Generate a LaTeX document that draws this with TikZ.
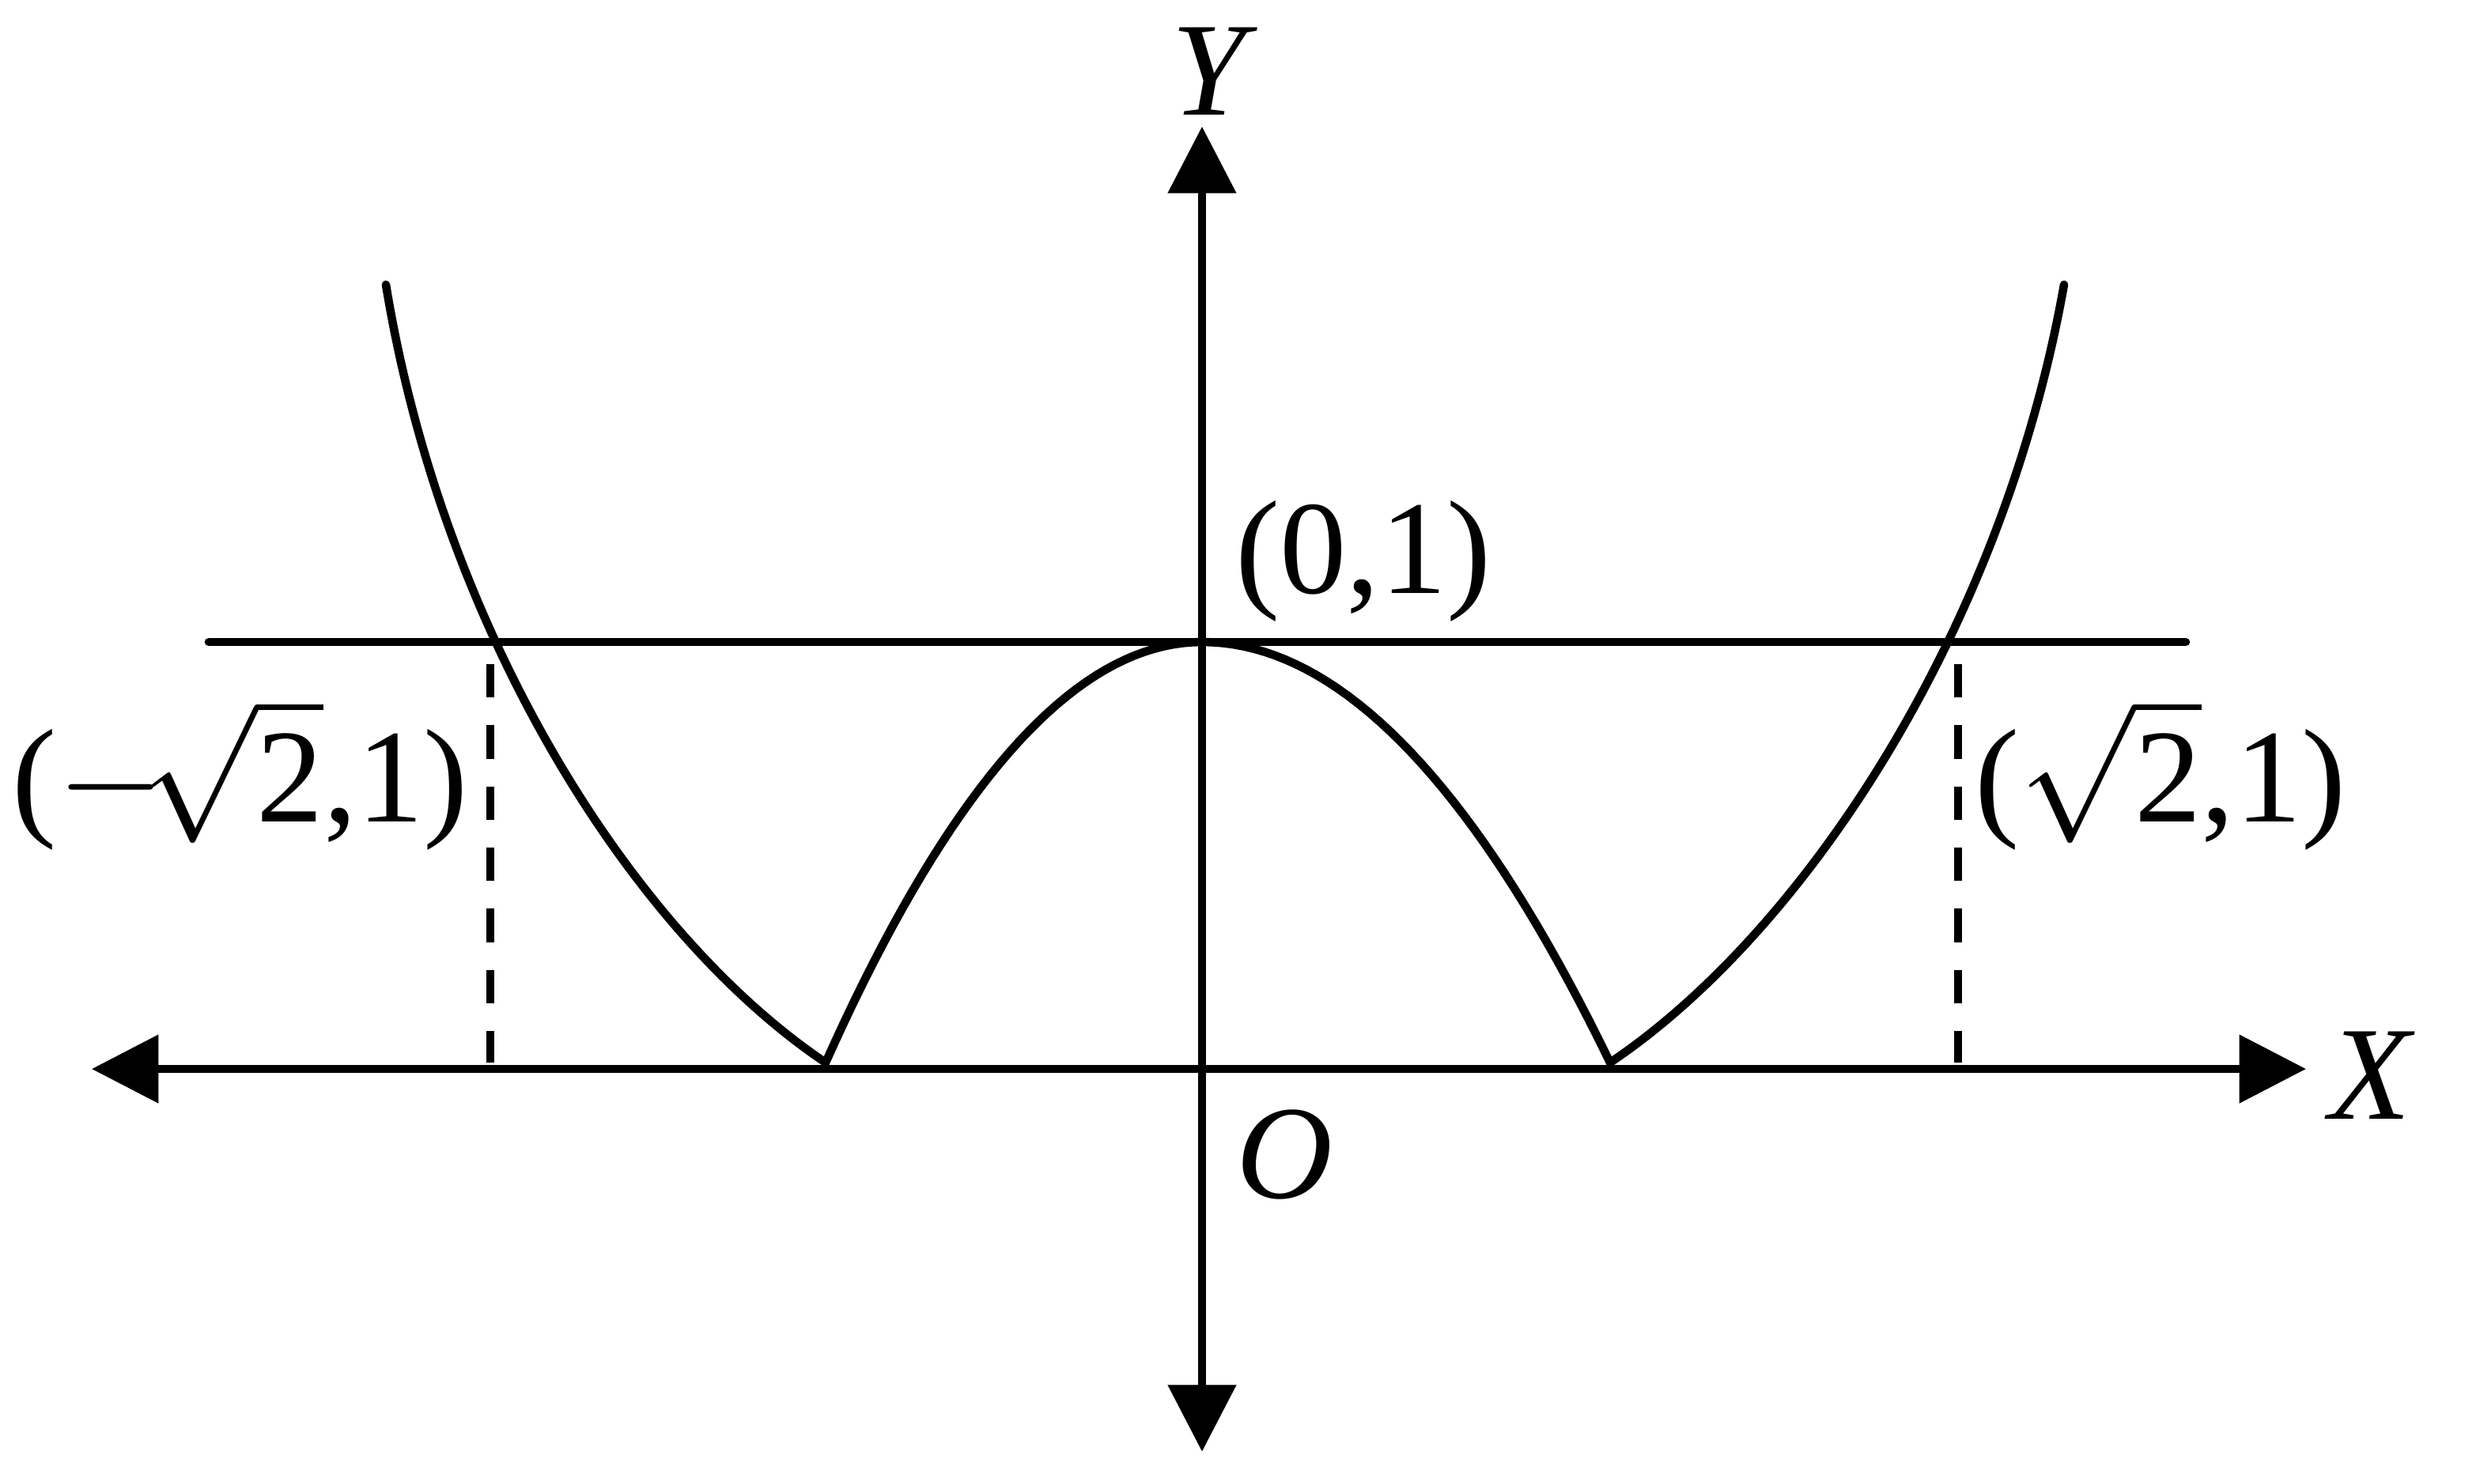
\documentclass[tikz,border=0pt]{standalone}
\usepackage{fontspec}
\setmainfont{Liberation Serif}
\usetikzlibrary{arrows.meta}
\begin{document}
\begin{tikzpicture}[x=0.01cm, y=-0.01cm, line width=1.5pt]

% Styles
\tikzset{
  axis/.style={{Triangle[length=12pt,width=12pt]}-{Triangle[length=12pt,width=12pt]}},
  curve/.style={line cap=round},
  guide/.style={dashed, dash pattern=on 6pt off 5pt},
  lbl/.style={font=\fontsize{24}{28}\selectfont, inner sep=0pt}
}
\useasboundingbox (0,0) rectangle (1568,938);

% Points
\coordinate (o) at (760,676);
\coordinate (xl) at (58,676);
\coordinate (xr) at (1458,676);
\coordinate (yt) at (760,80);
\coordinate (yb) at (760,918);
\coordinate (hl) at (132,406);
\coordinate (hr) at (1382,406);
\coordinate (pl) at (310,420);
\coordinate (pr) at (1238,420);
\coordinate (ql) at (310,672);
\coordinate (qr) at (1238,672);
\coordinate (zl) at (522,672);
\coordinate (zr) at (1018,672);
\coordinate (el) at (244,180);
\coordinate (er) at (1305,180);

% Axes and lines
\draw [axis] (xl) -- (xr);
\draw [axis] (yb) -- (yt);
\draw [curve] (hl) -- (hr);
\draw [guide] (pl) -- (ql);
\draw [guide] (pr) -- (qr);

% Curves
\draw [curve] (zl) .. controls (400,590) and (280,400) .. (el);
\draw [curve] (zr) .. controls (1140,590) and (1266,400) .. (er);
\draw [curve] plot[domain=522:760, samples=40] (\x, {406+266*((\x-760)/238)^2});
\draw [curve] plot[domain=760:1018, samples=40] (\x, {406+266*((\x-760)/258)^2});

% Labels
\node [lbl] (ylab) at (768,45) {\textit{Y}};
\node [lbl] (xlab) at (1500,680) {\textit{X}};
\node [lbl] (olab) at (812,730) {\textit{O}};
\node [lbl] (top) at (862,355) {(0,1)};
\node [lbl] (left) at (152,490) {($-\!\sqrt{\mbox{2}}$,1)};
\node [lbl] (right) at (1366,490) {($\sqrt{\mbox{2}}$,1)};

\end{tikzpicture}
\end{document}
